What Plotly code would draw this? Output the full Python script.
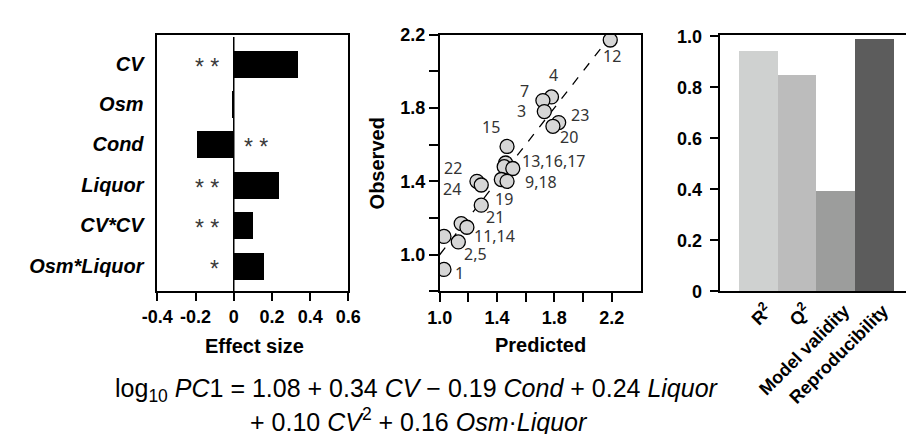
import plotly.graph_objects as go

# ---------------- data ----------------
terms = ["CV", "Osm", "Cond", "Liquor", "CV*CV", "Osm*Liquor"]
effect = [0.34, -0.01, -0.19, 0.24, 0.10, 0.16]
signif = ["**", "", "**", "**", "**", "*"]

predicted = [2.19, 1.78, 1.72, 1.73, 1.83, 1.79, 1.47, 1.46, 1.45, 1.51,
             1.43, 1.47, 1.26, 1.29, 1.29, 1.15, 1.19, 1.03, 1.13, 1.03]
observed = [2.17, 1.86, 1.84, 1.78, 1.72, 1.70, 1.59, 1.50, 1.48, 1.47,
            1.41, 1.40, 1.40, 1.38, 1.27, 1.17, 1.15, 1.10, 1.07, 0.92]
identity_line = [1.0, 2.2]

run_labels = ["12", "4", "7", "3", "23", "20", "15", "13,16,17", "9,18", "19",
              "22", "24", "21", "11,14", "2,5", "1"]
# label placement (data coords of middle panel)
lab_x = [2.199, 1.793, 1.591, 1.568, 1.980, 1.899, 1.361, 1.557, 1.579, 1.449,
         1.095, 1.084, 1.388, 1.226, 1.248, 1.135]
lab_y = [2.085, 1.981, 1.894, 1.781, 1.764, 1.639, 1.695, 1.509, 1.399, 1.304,
         1.471, 1.361, 1.205, 1.104, 1.002, 0.901]
lab_anchor = ["center"] * 7 + ["left", "left"] + ["center"] * 4 + ["left"] + ["center"] * 2

metrics = ["R<sup>2</sup>", "Q<sup>2</sup>", "Model validity", "Reproducibility"]
metric_vals = [0.945, 0.85, 0.395, 0.99]
metric_colors = ["#cfd1d0", "#bcbcbc", "#9c9d9c", "#5c5c5c"]

eq_line1 = "log<sub>10</sub> <i>PC</i>1 = 1.08 + 0.34 <i>CV</i> \u2212 0.19 <i>Cond</i> + 0.24 <i>Liquor</i>"
eq_line2 = "+ 0.10 <i>CV</i><sup>2</sup> + 0.16 <i>Osm</i>\u00b7<i>Liquor</i>"

# ---------------- layout helpers ----------------
W, H = 914, 434
FONT = "Liberation Sans, Arial, sans-serif"


def px_x(v):
    return v / W


def px_y(v):
    return 1 - v / H


fig = go.Figure()

# Left panel: effect sizes
ypos = list(range(len(terms)))
fig.add_trace(go.Bar(x=effect, y=ypos, orientation="h", width=0.667,
                     marker=dict(color="black", line=dict(width=0)),
                     xaxis="x", yaxis="y", showlegend=False))

# Middle panel: observed vs predicted
fig.add_trace(go.Scatter(x=identity_line, y=identity_line, mode="lines",
                         line=dict(color="black", width=1.3, dash="dash"),
                         xaxis="x2", yaxis="y2", showlegend=False))
fig.add_trace(go.Scatter(x=predicted, y=observed, mode="markers",
                         marker=dict(size=14, color="#d6d6d6",
                                     line=dict(color="black", width=1.3)),
                         xaxis="x2", yaxis="y2", showlegend=False))

# Right panel: model summary
fig.add_trace(go.Bar(x=list(range(len(metrics))), y=metric_vals, width=1.0,
                     marker=dict(color=metric_colors, line=dict(width=0)),
                     xaxis="x3", yaxis="y3", showlegend=False))

tick_font = dict(family=FONT, size=18, color="black", weight="bold")
axis_common = dict(showline=True, linecolor="black", linewidth=1.5, mirror=True,
                   showgrid=False, zeroline=False, tickfont=tick_font)

top, bottom = 17.3, 286.7
ydom = [px_y(bottom), px_y(top)]

fig.update_layout(
    width=W, height=H,
    margin=dict(l=0, r=0, t=0, b=0),
    paper_bgcolor="white", plot_bgcolor="white",
    bargap=0,
    xaxis=dict(domain=[px_x(137.7), px_x(335)], range=[-0.4, 0.6],
               tickvals=[-0.4, -0.2, 0, 0.2, 0.4, 0.6],
               ticktext=["-0.4", "-0.2", "0", "0.2", "0.4", "0.6"],
               ticks="outside", ticklen=8, tickwidth=1.5, tickcolor="black",
               anchor="y", **axis_common),
    yaxis=dict(domain=ydom, range=[5.635, -0.718], tickvals=ypos, ticktext=terms,
               ticks="", ticklabelstandoff=8, anchor="x",
               showline=True, linecolor="black", linewidth=1.5, mirror=True,
               showgrid=False, zeroline=False,
               tickfont=dict(family=FONT, size=20, color="black", weight="bold", style="italic")),
    xaxis2=dict(domain=[px_x(429.3), px_x(637.3)], range=[1.0, 2.405],
                tickvals=[1.0, 1.2, 1.4, 1.6, 1.8, 2.0, 2.2],
                ticktext=["1.0", "", "1.4", "", "1.8", "", "2.2"],
                ticks="outside", ticklen=9, tickwidth=1.5, tickcolor="black",
                anchor="y2", **axis_common),
    yaxis2=dict(domain=ydom, range=[0.8, 2.2],
                tickvals=[0.8, 1.0, 1.2, 1.4, 1.6, 1.8, 2.0, 2.2],
                ticktext=["", "1.0", "", "1.4", "", "1.8", "", "2.2"],
                ticks="outside", ticklen=9, tickwidth=1.5, tickcolor="black",
                anchor="x2", **axis_common),
    xaxis3=dict(domain=[px_x(719.3), 1.0], range=[-0.99, 3.875],
                tickvals=list(range(len(metrics))), ticktext=metrics,
                tickangle=-45, ticks="", ticklabelshift=8, anchor="y3", **axis_common),
    yaxis3=dict(domain=ydom, range=[0, 1.0075],
                tickvals=[0, 0.2, 0.4, 0.6, 0.8, 1.0],
                ticktext=["0", "0.2", "0.4", "0.6", "0.8", "1.0"],
                ticks="outside", ticklen=9, tickwidth=1.5, tickcolor="black",
                ticklabelstandoff=4, anchor="x3", **axis_common),
)

# zero line in left panel
fig.add_shape(type="line", xref="x", yref="paper", x0=0, x1=0,
              y0=ydom[0], y1=px_y(20), line=dict(color="black", width=1.5))

annotations = []
# significance stars
for i, (e, s) in enumerate(zip(effect, signif)):
    if not s:
        continue
    txt = " ".join(list(s))
    star_font = dict(family=FONT, size=23, color="#3a3a3a")
    if e >= 0:
        annotations.append(dict(x=-0.065, y=i, xref="x", yref="y", text=txt,
                                xanchor="right", yanchor="middle", yshift=-3,
                                showarrow=False, font=star_font))
    else:
        annotations.append(dict(x=0.045, y=i, xref="x", yref="y", text=txt,
                                xanchor="left", yanchor="middle", yshift=-3,
                                showarrow=False, font=star_font))

# run labels
for t, lx, ly, an in zip(run_labels, lab_x, lab_y, lab_anchor):
    annotations.append(dict(x=lx, y=ly, xref="x2", yref="y2", text=t,
                            xanchor=an, yanchor="middle", showarrow=False,
                            font=dict(family="Noto Sans, Open Sans, sans-serif", size=16, color="#333")))

title_font = dict(family=FONT, size=20, color="black", weight="bold")
annotations += [
    dict(x=px_x(238), y=px_y(344), xref="paper", yref="paper", text="Effect size",
         showarrow=False, xanchor="center", yanchor="middle", font=title_font),
    dict(x=px_x(533.3), y=px_y(342.7), xref="paper", yref="paper", text="Predicted",
         showarrow=False, xanchor="center", yanchor="middle", font=title_font),
    dict(x=px_x(365), y=px_y(152), xref="paper", yref="paper", text="Observed",
         showarrow=False, xanchor="center", yanchor="middle", textangle=-90, font=title_font),
    dict(x=px_x(406), y=px_y(390), xref="paper", yref="paper", text=eq_line1,
         showarrow=False, xanchor="center", yanchor="middle",
         font=dict(family=FONT, size=25, color="black")),
    dict(x=px_x(408), y=px_y(421), xref="paper", yref="paper", text=eq_line2,
         showarrow=False, xanchor="center", yanchor="middle",
         font=dict(family=FONT, size=25, color="black")),
]
fig.update_layout(annotations=annotations)

fig.write_html("out.html")
